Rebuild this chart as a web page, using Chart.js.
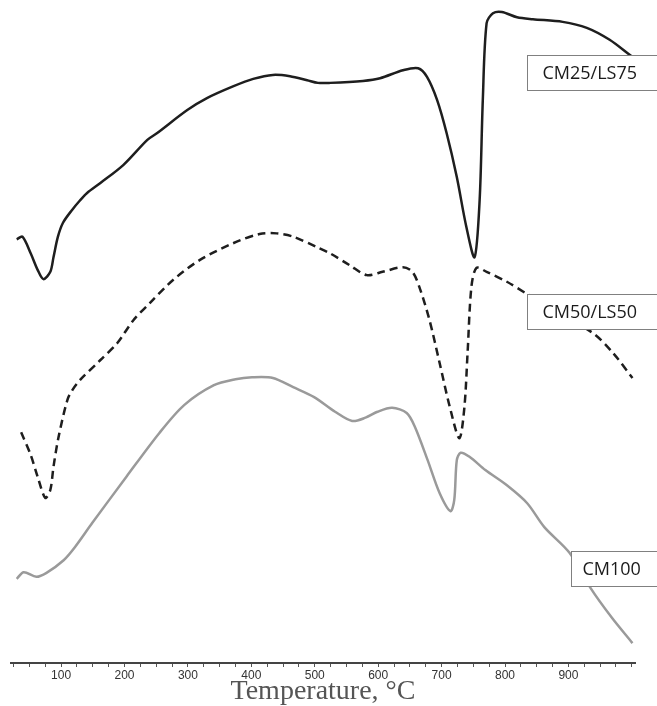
<!DOCTYPE html>
<html>
<head>
<meta charset="utf-8">
<script src="https://cdn.jsdelivr.net/npm/chart.js@4.4.1/dist/chart.umd.min.js"></script>
<style>
	html, body { margin: 0; padding: 0; background: #fff; }
	#wrap { width: 657px; height: 706px; }
</style>
</head>
<body>
<div id="wrap"><canvas id="dtaChart" width="657" height="706"></canvas></div>
<script>
/* DTA curves for the three CM/LS mixtures */

// CM25/LS75 (solid black)
const cm25Temp = [30, 39, 52, 63, 72, 83, 88, 95, 103, 117, 130, 141, 162, 198, 236, 251, 299, 330, 372, 403, 434, 461, 488, 505, 524, 576, 603, 639, 663, 677, 693, 708, 724, 739, 752, 760, 765, 771, 781, 795, 819, 844, 891, 929, 965, 997, 1003];
const cm25Signal = [63.9, 64.3, 61.8, 59.3, 57.9, 59.0, 61.2, 64.3, 66.4, 68.3, 69.8, 70.9, 72.4, 75.1, 78.9, 79.9, 83.4, 85.2, 87.0, 88.1, 88.7, 88.5, 87.9, 87.5, 87.5, 87.8, 88.2, 89.4, 89.7, 88.4, 84.9, 79.9, 73.3, 65.8, 61.2, 69.8, 84.9, 96.5, 98.0, 98.2, 97.4, 97.1, 96.7, 95.8, 94.0, 91.7, 91.3];

// CM50/LS50 (dashed)
const cm50Temp = [37, 52, 63, 75, 83, 88, 96, 110, 118, 130, 162, 189, 214, 241, 277, 319, 371, 413, 440, 466, 504, 524, 555, 582, 607, 639, 654, 665, 681, 697, 713, 728, 736, 741, 747, 755, 771, 803, 834, 938, 970, 1001];
const cm50Signal = [34.8, 31.4, 28.1, 24.9, 26.1, 29.6, 34.1, 39.7, 41.2, 42.7, 45.7, 48.3, 51.7, 54.4, 57.8, 60.8, 63.3, 64.7, 64.8, 64.3, 62.7, 61.8, 60.0, 58.5, 59.0, 59.7, 59.0, 56.7, 51.7, 45.2, 38.6, 33.9, 38.6, 46.8, 56.7, 59.6, 59.0, 57.5, 55.7, 49.8, 46.8, 43.0];

// CM100 (grey)
const cm100Temp = [30, 41, 61, 77, 104, 122, 149, 203, 255, 294, 341, 375, 401, 434, 466, 499, 532, 559, 580, 599, 622, 645, 658, 678, 697, 714, 720, 724, 730, 744, 769, 803, 835, 862, 902, 935, 968, 1001];
const cm100Signal = [12.7, 13.7, 13.0, 13.6, 15.5, 17.5, 21.1, 28.1, 34.7, 38.9, 41.9, 42.8, 43.1, 43.0, 41.6, 40.1, 37.9, 36.5, 37.0, 37.9, 38.5, 37.7, 35.6, 30.6, 25.6, 22.9, 24.6, 30.6, 31.7, 31.1, 29.1, 26.8, 24.1, 20.5, 16.6, 11.3, 6.9, 3.0];

// x axis: labelled every 100 °C, minor ticks every 25 °C
const tickLabels = ['100', '200', '300', '400', '500', '600', '700', '800', '900'];

const seriesNames = ['CM25/LS75', 'CM50/LS50', 'CM100'];
// where each name box sits (top-left corner, in data units)
const nameBoxes = [
	{ x: 834, y: 91.7 },
	{ x: 834, y: 55.7 },
	{ x: 904, y: 16.9 }
];

function toPoints(xs, ys) {
	return xs.map((x, i) => ({ x: x, y: ys[i] }));
}

// name boxes drawn over the curves (white filled, grey border)
const nameBoxPlugin = {
	id: 'nameBoxes',
	afterDatasetsDraw(chart) {
		const ctx = chart.ctx;
		const xs = chart.scales.x, ys = chart.scales.y;
		ctx.save();
		ctx.font = '18px "Open Sans", sans-serif';
		ctx.textBaseline = 'middle';
		nameBoxes.forEach((b, i) => {
			const left = Math.round(xs.getPixelForValue(b.x)) + 0.5;
			const top = Math.round(ys.getPixelForValue(b.y)) + 0.5;
			const h = 35;
			ctx.fillStyle = '#fff';
			ctx.fillRect(left, top, 200, h);
			ctx.strokeStyle = '#808080';
			ctx.lineWidth = 1;
			ctx.strokeRect(left, top, 200, h);
			ctx.fillStyle = '#1a1a1a';
			ctx.fillText(seriesNames[i], left + (i === 2 ? 11 : 15), top + h / 2 + 1);
		});
		ctx.restore();
	}
};

const ctx = document.getElementById('dtaChart').getContext('2d');
new Chart(ctx, {
	type: 'line',
	data: {
		datasets: [
			{
				label: seriesNames[0],
				data: toPoints(cm25Temp, cm25Signal),
				borderColor: '#1e1e1e',
				borderWidth: 2.5,
				pointRadius: 0,
				tension: 0.3,
				fill: false
			},
			{
				label: seriesNames[1],
				data: toPoints(cm50Temp, cm50Signal),
				borderColor: '#1e1e1e',
				borderWidth: 2.5,
				borderDash: [8, 5],
				pointRadius: 0,
				tension: 0.3,
				fill: false
			},
			{
				label: seriesNames[2],
				data: toPoints(cm100Temp, cm100Signal),
				borderColor: '#9a9a9a',
				borderWidth: 2.5,
				pointRadius: 0,
				tension: 0.3,
				fill: false
			}
		]
	},
	options: {
		responsive: false,
		animation: false,
		layout: { padding: { left: 11, right: 22, top: 0, bottom: 0 } },
		plugins: { legend: { display: false }, tooltip: { enabled: false } },
		scales: {
			x: {
				type: 'linear',
				min: 21,
				max: 1005,
				afterFit: (scale) => { scale.height = 43; },
				border: { display: true, color: '#444', width: 2 },
				grid: { display: true, drawOnChartArea: false, drawTicks: true, tickLength: 4, color: '#555', lineWidth: 1 },
				ticks: {
					stepSize: 25,
					includeBounds: false,
					autoSkip: false,
					maxRotation: 0,
					padding: 1,
					color: '#333',
					font: { family: '"Liberation Sans", Arial, sans-serif', size: 12 },
					callback: (v) => tickLabels.includes(String(v)) ? String(v) : ''
				},
				title: {
					display: true,
					text: 'Temperature, °C',
					color: '#555',
					font: { family: '"Liberation Serif", "Times New Roman", serif', size: 28 },
					padding: { top: 0, bottom: -2 }
				}
			},
			y: { display: false, min: 0, max: 100 }
		}
	},
	plugins: [nameBoxPlugin]
});
</script>
</body>
</html>
